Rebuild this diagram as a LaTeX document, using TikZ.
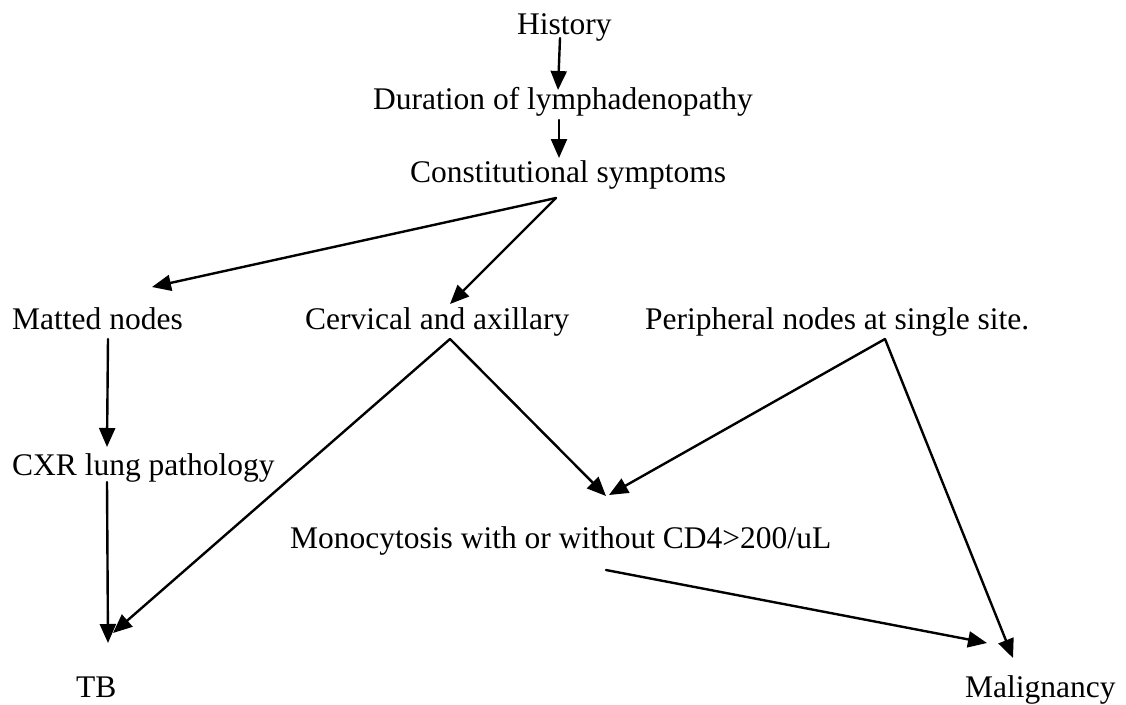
\documentclass[tikz,border=0pt]{standalone}
\usepackage{fontspec}
\setmainfont{Liberation Serif}
\usetikzlibrary{arrows.meta}
\begin{document}
\begin{tikzpicture}[x=1pt,y=-1pt,
  lbl/.style={anchor=base west,inner sep=0pt,font=\fontsize{31.5}{36}\selectfont},
  arr/.style={-{Triangle[length=19pt,width=16pt]},line width=2.4pt,line cap=round}]
\useasboundingbox[fill=white] (0,0) rectangle (1126,704);
% nodes
\node[lbl] (hist) at (517,34) {History};
\node[lbl] (dur)  at (373,109) {Duration of lymphadenopathy};
\node[lbl] (con)  at (410,182) {Constitutional symptoms};
\node[lbl] (mat)  at (12,329) {Matted nodes};
\node[lbl] (cer)  at (305,329) {Cervical and axillary};
\node[lbl] (per)  at (645,329) {Peripheral nodes at single site.};
\node[lbl] (cxr)  at (12,475) {CXR lung pathology};
\node[lbl] (mono) at (290,548) {Monocytosis with or without CD4>200/uL};
\node[lbl] (tb)   at (76,697) {TB};
\node[lbl] (mal)  at (965,697) {Malignancy};
% connectors
\draw[arr] ([shift={(43,4)}]hist.base west) -- ([shift={(185,-19)}]dur.base west);
\draw[arr] ([shift={(186,11)}]dur.base west) -- ([shift={(149,-24)}]con.base west);
\draw[arr] ([shift={(146,16)}]con.base west) -- ([shift={(140,-42)}]mat.base west);
\draw[arr] ([shift={(146,16)}]con.base west) -- ([shift={(145,-25)}]cer.base west);
\draw[arr] ([shift={(96,10)}]mat.base west) -- ([shift={(95,-28)}]cxr.base west);
\draw[arr] ([shift={(95,7)}]cxr.base west) -- ([shift={(32,-54)}]tb.base west);
\draw[arr] ([shift={(145,10)}]cer.base west) -- ([shift={(37,-64)}]tb.base west);
\draw[arr] ([shift={(145,10)}]cer.base west) -- ([shift={(316,-52)}]mono.base west);
\draw[arr] ([shift={(240,10)}]per.base west) -- ([shift={(319,-53)}]mono.base west);
\draw[arr] ([shift={(240,10)}]per.base west) -- ([shift={(48,-39)}]mal.base west);
\draw[arr] ([shift={(316,22)}]mono.base west) -- ([shift={(22,-54)}]mal.base west);
\end{tikzpicture}
\end{document}
